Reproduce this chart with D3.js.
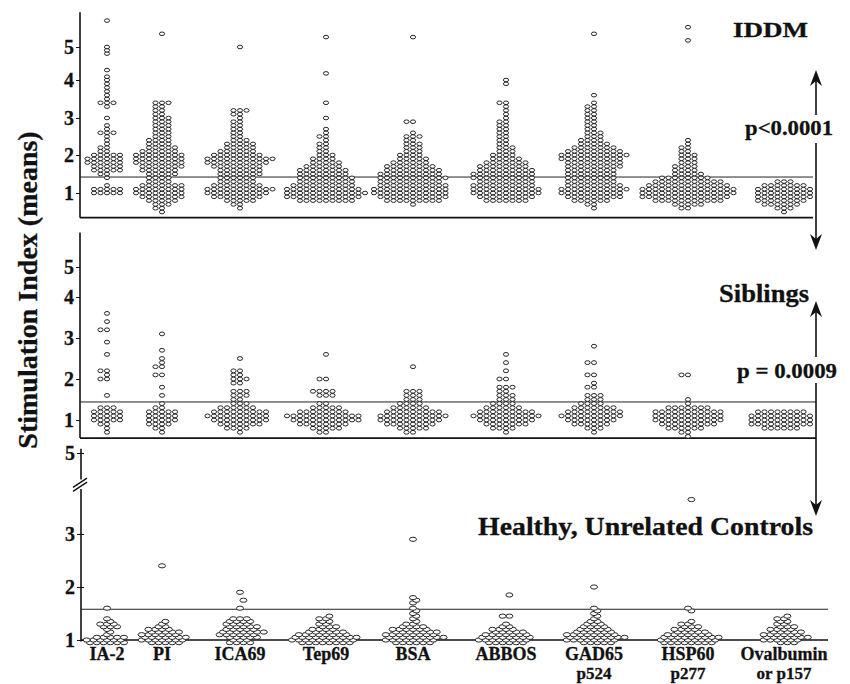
<!DOCTYPE html>
<html lang="en">
<head>
<meta charset="UTF-8">
<script src="https://cdn.jsdelivr.net/npm/d3@7"></script>
<title>Stimulation Index</title>
<style>
  body { margin: 0; background: #fff; }
  text { font-family: "Liberation Serif", "Times New Roman", serif; font-weight: bold; fill: #111; stroke: #111; stroke-width: 0.3; }
</style>
</head>
<body>
<div id="chart"></div>
<script>
const antigens = ["IA-2", "PI", "ICA69", "Tep69", "BSA", "ABBOS", "GAD65", "HSP60", "Ovalbumin"];
const antigenLines = [["IA-2"], ["PI"], ["ICA69"], ["Tep69"], ["BSA"], ["ABBOS"], ["GAD65", "p524"], ["HSP60", "p277"], ["Ovalbumin", "or p157"]];
const yTicks = [1, 2, 3, 4, 5];
const controlTicks = [1, 2, 3, 5];

// IDDM: number of subjects per 0.1 step of SI, first entry = 0.5
const iddmCounts = [
  [0,0,0,0,0, 5,5,1,0,1, 2,5,5,6,6, 5,2,2,1,1, 1,3,1,1,0, 1,0,0,1,3, 1,1,1,1,1, 1,1,0,1],
  [1,2,3,5,7, 8,8,7,4,4, 5,6,7,8,8, 8,6,5,4,4, 3,3,3,3,3, 3,2,2,2,3],
  [0,1,2,5,8, 10,11,8,6,6, 7,7,8,10,11, 8,6,5,5,3, 2,2,2,2,2, 1,2,3],
  [0,0,0,9,12, 13,12,10,9,9, 8,8,6,5,4, 3,2,2,2,1, 2,1,1],
  [0,0,1,9,11, 12,12,11,10,11, 10,9,8,6,5, 4,3,3,3,2, 3,1,0,0,2],
  [0,0,0,7,9, 11,11,10,9,10, 10,9,8,7,5, 4,3,3,2,2, 2,2,2,2,2, 1,1,1,1,2, 0,0,0,0,1, 1],
  [0,1,2,6,9, 10,11,9,8,8, 8,8,9,9,10, 11,9,7,5,4, 3,3,2,2,2, 2,2,2,2,1, 0,1],
  [0,2,5,11,14, 15,15,13,11,8, 5,4,4,3,3, 3,2,2,1,1],
  [1,3,6,8,9, 9,9,7,3]
];
const iddmHigh = [[4.8, 4.9, 5.0, 5.8], [5.4], [5.0], [3.0, 3.4, 4.2, 5.3], [5.3], [], [5.4], [5.2, 5.6], []];

// Siblings: per 0.1 step, first entry = 0.5
const sibCounts = [
  [0,0,1,1,2, 5,5,5,3,0, 0,1,0,0,0, 2,1,2,0,0, 0,1,0,0,1, 0,0,2,0,1, 0,1],
  [0,0,1,2,4, 5,5,5,2,1, 0,1,0,1,0, 0,2,0,2,1, 1,0,1,0,0, 0,1],
  [0,0,1,4,7, 9,10,9,6,3, 2,3,3,0,2, 3,2,2,0,0, 1],
  [0,0,2,5,8, 11,12,8,5,2, 0,3,4,0,0, 2,0,0,0,0, 0,1],
  [0,0,2,5,8, 10,11,9,6,4, 3,3,3,0,0, 0,0,0,1],
  [0,0,1,4,7, 9,11,9,6,4, 3,3,2,3,0, 2,0,1,0,1, 0,1],
  [0,0,1,3,6, 8,10,9,7,4, 3,3,0,2,1, 0,2,0,0,2, 0,0,0,1],
  [0,1,2,6,9, 11,11,11,7,1, 1,0,0,0,0, 0,2],
  [0,0,0,6,10, 10,10,8]
];
const sibHigh = [[], [], [], [], [], [], [], [], []];

// Healthy controls: per 0.05 step, first entry = 0.95
const ctrlCounts = [
  [6,6,5,1,1,1,3,3,1,1,0,0,0,1],
  [5,7,7,6,5,4,2,1,1],
  [4,3,5,6,7,5,5,4,4,3,0,0,0,1,0,0,1,0,0,1],
  [8,10,10,8,6,4,3,2,2,2,1],
  [6,8,9,8,7,6,4,2,1,1,1,1,1,1,0,1,1,1],
  [6,8,8,7,5,4,2,1,0,0,2,0,0,0,0,0,0,0,1],
  [5,8,9,8,6,5,4,3,2,1,1,1,1,1],
  [8,9,9,7,5,4,3,2,1,0,0,0,1,1],
  [3,6,7,6,5,4,3,2,2,2,1]
];
const ctrlHigh = [[], [2.4], [], [], [2.9], [], [2.0], [3.65], []];

const thresholds = [1.42, 1.44, 1.58];

const width = 850, height = 684;
const svg = d3.select("#chart").append("svg")
  .attr("width", width)
  .attr("height", height);

const x = d3.scaleOrdinal().domain(antigens).range([107, 162, 240, 326, 413, 506, 594, 688, 784]);

const panels = [
  { counts: iddmCounts, high: iddmHigh, start: 0.5, step: 0.1, threshold: thresholds[0], ticks: yTicks,
    y: d3.scaleLinear().domain(yTicks).range([193, 155, 118, 80, 47]),
    axisX: 80, right: 813, top: 6.05, bottom: 0.35, rx: 2.6, ry: 1.8, gap: 6.5, stagger: false },
  { counts: sibCounts, high: sibHigh, start: 0.5, step: 0.1, threshold: thresholds[1], ticks: yTicks,
    y: d3.scaleLinear().domain(yTicks).range([420, 379, 338, 297, 267]),
    axisX: 80, right: 816, top: 6.15, bottom: 0.56, rx: 2.6, ry: 1.9, gap: 6.5, stagger: false },
  { counts: ctrlCounts, high: ctrlHigh, start: 0.95, step: 0.05, threshold: thresholds[2], ticks: controlTicks,
    y: d3.scaleLinear().domain(yTicks).range([640, 587, 534, 481, 453]),
    axisX: 81, right: 828, top: 5.15, bottom: 0.97, rx: 3.5, ry: 2.1, gap: 6.8, stagger: true }
];

// spread the dots of one antigen row by row around its centre
function layout(values, p, cx) {
  const rows = d3.groups(values, v => Math.round(v / p.step));
  const out = [];
  rows.forEach(([key, vs]) => {
    const shift = p.stagger && (key % 2) ? p.gap / 2 : 0;
    vs.forEach((v, j) => {
      const k = j === 0 ? 0 : (j % 2 ? -Math.ceil(j / 2) : j / 2);
      out.push({ v: v, cx: cx + shift + k * p.gap });
    });
  });
  return out;
}

panels.forEach((p, pi) => {
  const g = svg.append("g");
  const y = p.y;

  // axis line
  if (pi === 2) {
    g.append("line").attr("x1", p.axisX).attr("x2", p.axisX)
      .attr("y1", y(p.top)).attr("y2", y(4.05)).attr("stroke", "#111").attr("stroke-width", 1.6);
    g.append("line").attr("x1", p.axisX).attr("x2", p.axisX)
      .attr("y1", y(3.85)).attr("y2", y(p.bottom)).attr("stroke", "#111").attr("stroke-width", 1.6);
    [0, 4].forEach(d => {
      g.append("line").attr("x1", p.axisX - 8).attr("y1", y(3.88) + d)
        .attr("x2", p.axisX + 6).attr("y2", y(4.1) + d)
        .attr("stroke", "#111").attr("stroke-width", 1.4);
    });
  } else {
    g.append("line").attr("x1", p.axisX).attr("x2", p.axisX)
      .attr("y1", y(p.top)).attr("y2", y(p.bottom)).attr("stroke", "#111").attr("stroke-width", 1.6);
  }

  const axis = g.append("g")
    .attr("transform", `translate(${p.axisX},0)`)
    .call(d3.axisLeft(y).tickValues(p.ticks).tickSize(4).tickPadding(2).tickFormat(d3.format("d")));
  axis.select(".domain").remove();
  axis.selectAll(".tick line").attr("stroke", "#111").attr("x2", pi === 2 ? 3 : 0).attr("x1", -4);
  axis.selectAll(".tick text")
    .attr("font-family", "Liberation Serif, Times New Roman, serif")
    .attr("font-weight", "bold")
    .attr("font-size", 20)
    .attr("fill", "#111");

  // threshold and base lines
  g.append("line").attr("x1", p.axisX).attr("x2", p.right)
    .attr("y1", y(p.threshold)).attr("y2", y(p.threshold))
    .attr("stroke", "#222").attr("stroke-width", 1);
  const baseVal = pi === 2 ? 1 : p.bottom;
  g.append("line").attr("x1", p.axisX).attr("x2", p.right)
    .attr("y1", y(baseVal)).attr("y2", y(baseVal))
    .attr("stroke", "#111").attr("stroke-width", pi === 2 ? 1.4 : 1.8);

  // dots
  antigens.forEach((a, ai) => {
    const values = [];
    p.counts[ai].forEach((n, i) => {
      const v = +(p.start + i * p.step).toFixed(2);
      for (let k = 0; k < n; k++) values.push(v);
    });
    p.high[ai].forEach(v => values.push(v));
    const dots = layout(values, p, x(a));
    g.append("g").selectAll("ellipse")
      .data(dots)
      .join("ellipse")
      .attr("cx", d => d.cx)
      .attr("cy", d => y(d.v))
      .attr("rx", p.rx)
      .attr("ry", p.ry)
      .attr("fill", "#fff")
      .attr("stroke", "#111")
      .attr("stroke-width", 0.9);
  });
});

// x labels, one text per line
antigens.forEach((a, i) => {
  antigenLines[i].forEach((line, j) => {
    svg.append("text")
      .attr("x", x(a))
      .attr("y", j === 0 ? 660 : 679)
      .attr("text-anchor", "middle")
      .attr("font-size", j === 0 ? 18 : 17)
      .text(line);
  });
});

// y title
svg.append("text")
  .attr("transform", "translate(37,290) rotate(-90)")
  .attr("text-anchor", "middle")
  .attr("font-size", 28)
  .text("Stimulation Index (means)");

// group labels and p values
const labels = [
  { text: "IDDM", x: 733, y: 37, size: 22, len: 75 },
  { text: "p<0.0001", x: 745, y: 135, size: 22, len: 88 },
  { text: "Siblings", x: 719, y: 302, size: 26, len: 90 },
  { text: "p = 0.0009", x: 737, y: 378, size: 22, len: 100 },
  { text: "Healthy, Unrelated Controls", x: 478, y: 535, size: 26, len: 335 }
];
labels.forEach(l => {
  svg.append("text")
    .attr("x", l.x).attr("y", l.y)
    .attr("font-size", l.size)
    .attr("textLength", l.len)
    .attr("lengthAdjust", "spacingAndGlyphs")
    .text(l.text);
});

// arrows on the right
const ax = 816;
function arrow(y1, tip) {
  const dir = tip < y1 ? 1 : -1;
  svg.append("line").attr("x1", ax).attr("x2", ax)
    .attr("y1", y1).attr("y2", tip + dir * 10)
    .attr("stroke", "#111").attr("stroke-width", 1.6);
  svg.append("path")
    .attr("d", `M${ax},${tip} L${ax - 6},${tip + dir * 16} L${ax},${tip + dir * 11} L${ax + 6},${tip + dir * 16} Z`)
    .attr("fill", "#111");
}
arrow(115, 70);
arrow(143, 250);
arrow(357, 301);
arrow(383, 516);
</script>
</body>
</html>
